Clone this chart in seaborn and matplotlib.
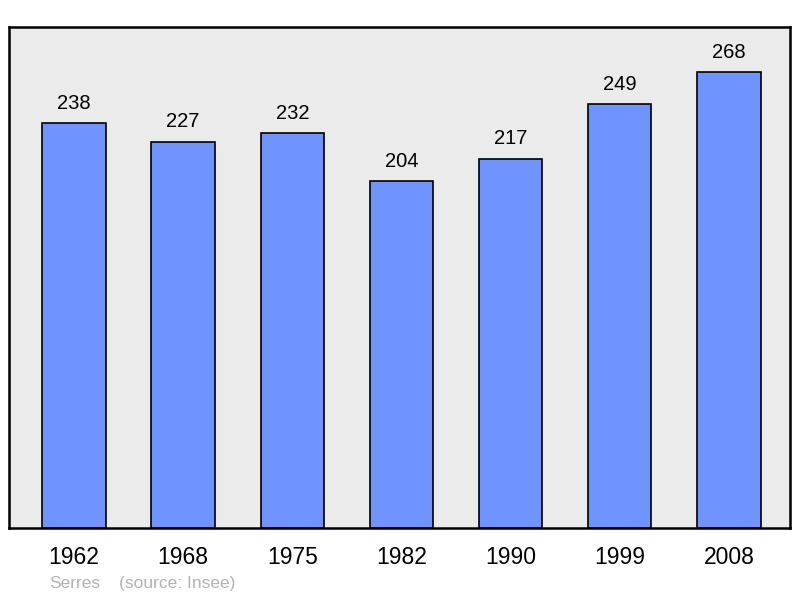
import pandas as pd
import numpy as np
import matplotlib.pyplot as plt
import seaborn as sns

# données population
years = ["1962", "1968", "1975", "1982", "1990", "1999", "2008"]
population = [238, 227, 232, 204, 217, 249, 268]
commune = "Serres"
source = "(source: Insee)"

df = pd.DataFrame({"year": years, "pop": population})

plt.rcParams["font.family"] = ["Liberation Sans", "DejaVu Sans"]

fig = plt.figure(figsize=(8, 5.98), dpi=100)
ax = fig.add_axes([0.01125, 0.117, 0.97625, 0.8378])
ax.set_facecolor("#ebebeb")

sns.barplot(data=df, x="year", y="pop", color="#7094ff", saturation=1,
            width=0.58, edgecolor="black", linewidth=1.2, ax=ax)

for i, v in enumerate(population):
    ax.annotate(str(v), (i, v), xytext=(0, 7.5), textcoords="offset points",
                ha="center", va="bottom", fontsize=14.5)

ax.set_ylim(0, 294.5)
ax.set_xlim(-0.595, 6.56)
ax.set_yticks([])
ax.set_xlabel("")
ax.set_ylabel("")
ax.tick_params(axis="x", length=0, labelsize=16.5, pad=13)
for s in ax.spines.values():
    s.set_linewidth(1.8)
    s.set_color("black")

fig.text(49 / 800, 1 - 583.5 / 598, commune, color="#b3b3b3", fontsize=12.5,
         va="center", ha="left")
fig.text(119 / 800, 1 - 583.5 / 598, source, color="#b3b3b3", fontsize=12.5,
         va="center", ha="left")

plt.savefig("out.png", dpi=100)
